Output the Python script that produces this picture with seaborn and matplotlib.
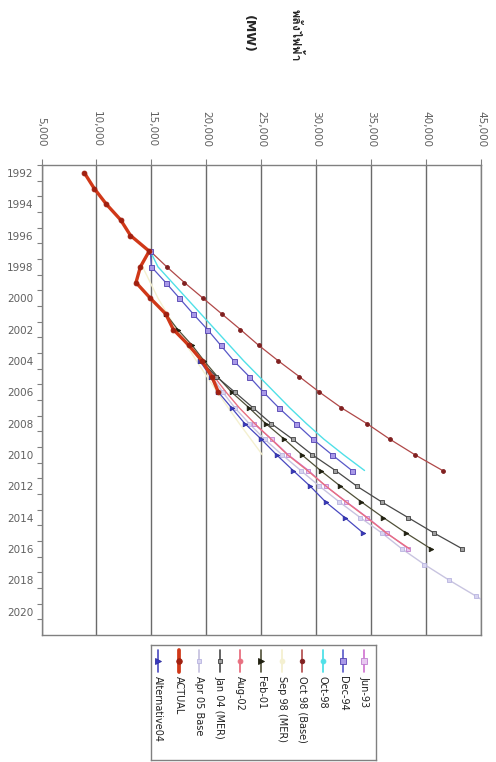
import matplotlib
matplotlib.use("Agg")
import matplotlib.pyplot as plt
import seaborn as sns
from matplotlib import font_manager, ft2font

# --- data (peak demand in MW) ---
actual_years = [1992, 1993, 1994, 1995, 1996, 1997, 1998, 1999, 2000, 2001, 2002, 2003, 2004, 2005, 2006]
actual_mw = [8900, 9800, 10900, 12200, 13100, 14800, 14000, 13600, 14900, 16300, 17000, 18400, 19600, 20500, 21100]

oct98_base_years = [1997, 1998, 1999, 2000, 2001, 2002, 2003, 2004, 2005, 2006, 2007, 2008, 2009, 2010, 2011]
oct98_base_mw = [14900, 16400, 18000, 19700, 21400, 23100, 24750, 26550, 28450, 30300, 32300, 34600, 36700, 39000, 41500]

oct98_years = [1997, 1998, 1999, 2000, 2001, 2002, 2003, 2004, 2005, 2006, 2007, 2008, 2009, 2010, 2011]
oct98_mw = [14900, 15600, 16900, 18200, 19500, 20800, 22100, 23400, 24800, 26200, 27600, 29100, 30700, 32500, 34400]

dec94_years = [1997, 1998, 1999, 2000, 2001, 2002, 2003, 2004, 2005, 2006, 2007, 2008, 2009, 2010, 2011]
dec94_mw = [14900, 15000, 16300, 17550, 18800, 20100, 21300, 22500, 23900, 25200, 26600, 28150, 29700, 31450, 33250]

sep98_mer_years = [1998, 2000, 2002, 2004, 2006, 2008, 2010]
sep98_mer_mw = [14200, 15600, 17300, 19100, 21000, 23000, 25100]

feb01_years = [2001, 2002, 2003, 2004, 2005, 2006, 2007, 2008, 2009, 2010, 2011, 2012, 2013, 2014, 2015, 2016]
feb01_mw = [16300, 17400, 18700, 19800, 21000, 22300, 23900, 25400, 27100, 28700, 30400, 32200, 34100, 36100, 38200, 40450]

aug02_years = [2002, 2003, 2004, 2005, 2006, 2007, 2008, 2009, 2010, 2011, 2012, 2013, 2014, 2015, 2016]
aug02_mw = [17000, 18300, 19600, 20700, 21800, 23000, 24400, 25900, 27400, 29200, 30900, 32700, 34600, 36400, 38500]

jun93_years = [2008, 2009, 2010, 2011, 2012, 2013, 2014, 2015, 2016]
jun93_mw = [24300, 25950, 27450, 29300, 30850, 32750, 34650, 36450, 38400]

jan04_mer_years = [2004, 2005, 2006, 2007, 2008, 2009, 2010, 2011, 2012, 2013, 2014, 2015, 2016]
jan04_mer_mw = [19500, 20900, 22600, 24250, 25900, 27850, 29650, 31750, 33700, 35950, 38350, 40750, 43300]

apr05_base_years = [2005, 2006, 2007, 2008, 2009, 2010, 2011, 2012, 2013, 2014, 2015, 2016, 2017, 2018, 2019, 2020]
apr05_base_mw = [20500, 21500, 22600, 23900, 25300, 26900, 28600, 30300, 32100, 34000, 36000, 37800, 39850, 42100, 44500, 46800]

alt04_years = [2004, 2005, 2006, 2007, 2008, 2009, 2010, 2011, 2012, 2013, 2014, 2015]
alt04_mw = [19400, 20400, 21100, 22300, 23500, 25000, 26400, 27900, 29450, 30850, 32600, 34300]

mw_ticks = [5000, 10000, 15000, 20000, 25000, 30000, 35000, 40000, 45000]
year_ticks = [1992, 1994, 1996, 1998, 2000, 2002, 2004, 2006, 2008, 2010, 2012, 2014, 2016, 2018, 2020]

# legend order as in the chart (left to right)
legend_names = ["Alternative04", "ACTUAL", "Apr 05 Base", "Jan 04 (MER)", "Aug-02", "Feb-01",
                "Sep 98 (MER)", "Oct 98 (Base)", "Oct-98", "Dec-94", "Jun-93"]

styles = {
    "Jun-93": dict(color="#d070d0", marker="s", mfc="#e8c8f0", mec="#c080d0", ms=3.2, lw=0.9),
    "Dec-94": dict(color="#5858c8", marker="s", mfc="#a898e8", mec="#5040b0", ms=3.6, lw=0.9),
    "Oct-98": dict(color="#50e0e8", marker="", mfc="#50e0e8", mec="#50e0e8", ms=3, lw=1.0),
    "Oct 98 (Base)": dict(color="#b04848", marker="o", mfc="#802020", mec="#802020", ms=2.8, lw=0.9),
    "Sep 98 (MER)": dict(color="#f4f0d0", marker="", mfc="#f4f0d0", mec="#f4f0d0", ms=3, lw=1.0),
    "Feb-01": dict(color="#505038", marker=">", mfc="#202010", mec="#202010", ms=3.3, lw=0.9),
    "Aug-02": dict(color="#e87080", marker="", mfc="#e87080", mec="#e87080", ms=3, lw=1.0),
    "Jan 04 (MER)": dict(color="#484848", marker="s", mfc="#a0a0a0", mec="#404040", ms=3.0, lw=0.9),
    "Apr 05 Base": dict(color="#c8c4e0", marker="s", mfc="#d8d4f0", mec="#b8b4e0", ms=2.5, lw=1.0),
    "ACTUAL": dict(color="#d03818", marker="o", mfc="#a02010", mec="#a02010", ms=3.5, lw=2.4),
    "Alternative04": dict(color="#4848c0", marker=">", mfc="#3838c0", mec="#3030a0", ms=3.3, lw=0.9),
}

series = [
    ("Sep 98 (MER)", sep98_mer_years, sep98_mer_mw),
    ("Oct 98 (Base)", oct98_base_years, oct98_base_mw),
    ("Oct-98", oct98_years, oct98_mw),
    ("Dec-94", dec94_years, dec94_mw),
    ("Apr 05 Base", apr05_base_years, apr05_base_mw),
    ("Jun-93", jun93_years, jun93_mw),
    ("Aug-02", aug02_years, aug02_mw),
    ("Feb-01", feb01_years, feb01_mw),
    ("Jan 04 (MER)", jan04_mer_years, jan04_mer_mw),
    ("Alternative04", alt04_years, alt04_mw),
    ("ACTUAL", actual_years, actual_mw),
]


def find_thai_font():
    # first installed family that has Thai glyphs
    for f in font_manager.fontManager.ttflist:
        try:
            if ord("พ") in ft2font.FT2Font(f.fname).get_charmap():
                return f.name
        except Exception:
            continue
    return "DejaVu Sans"


sns.set_style("white")
thai_font = find_thai_font()
plt.rcParams["font.family"] = ["DejaVu Sans", thai_font]

fig = plt.figure(figsize=(4.96, 7.62), dpi=100)
ax = fig.add_axes([41.5 / 496, 1 - 635 / 762, (481 - 41.5) / 496, (635 - 165) / 762])

for name, yrs, mw in series:
    st = styles[name]
    sns.lineplot(x=mw, y=yrs, sort=False, estimator=None, ax=ax, color=st["color"],
                 linewidth=st["lw"], marker=st["marker"] or None, markersize=st["ms"],
                 markerfacecolor=st["mfc"], markeredgecolor=st["mec"], markeredgewidth=0.6)

ax.set_xlim(5000, 45000)
ax.set_ylim(2021.5, 1991.5)
ax.set_xlabel("")
ax.set_ylabel("")

ax.xaxis.tick_top()
ax.set_xticks(mw_ticks)
ax.set_xticklabels([f"{v:,}" for v in mw_ticks], rotation=-90, fontsize=7.5, color="#606060")
ax.tick_params(axis="x", top=True, bottom=False, length=4, width=0.8, color="#808080", pad=9)

ax.set_yticks(year_ticks)
ax.set_yticklabels([str(y) for y in year_ticks], fontsize=7.5, color="#606060")
ax.set_yticks([y + 0.5 for y in range(1991, 2021)], minor=True)
ax.tick_params(axis="y", which="major", left=True, length=0, pad=6)
ax.tick_params(axis="y", which="minor", left=True, length=3.5, width=0.8, color="#808080")

ax.grid(axis="x", color="#6a6a6a", linewidth=1.0)
ax.grid(axis="y", visible=False)
ax.set_axisbelow(True)
for sp in ax.spines.values():
    sp.set_color("#808080")
    sp.set_linewidth(1.0)

# rotated title
fig.text(295 / 496, 1 - 35 / 762, "พลังไฟฟ้า", rotation=-90, ha="center", va="center",
         fontsize=9, fontweight="bold", family=[thai_font, "DejaVu Sans"])
fig.text(248 / 496, 1 - 34 / 762, "(MW)", rotation=-90, ha="center", va="center",
         fontsize=9, fontweight="bold")

# rotated legend drawn by hand
lax = fig.add_axes([151 / 496, 1 - 760 / 762, 225 / 496, 115 / 762])
lax.set_xlim(0, 1)
lax.set_ylim(0, 1)
lax.set_xticks([])
lax.set_yticks([])
for sp in lax.spines.values():
    sp.set_color("#808080")
    sp.set_linewidth(1.0)
step = 20.6 / 225
for i, name in enumerate(legend_names):
    st = styles[name]
    xc = 7 / 225 + i * step
    lax.plot([xc, xc], [0.957, 0.765], color=st["color"], lw=st["lw"] + 0.3)
    lax.plot([xc], [0.86], marker=st["marker"] or "o", ms=st["ms"] + 0.5,
             mfc=st["mfc"], mec=st["mec"], mew=0.6, color=st["color"])
    lax.text(xc, 0.73, name, rotation=-90, ha="center", va="top", fontsize=7, color="#222222")

fig.savefig("out.png", dpi=100)
plt.close(fig)
